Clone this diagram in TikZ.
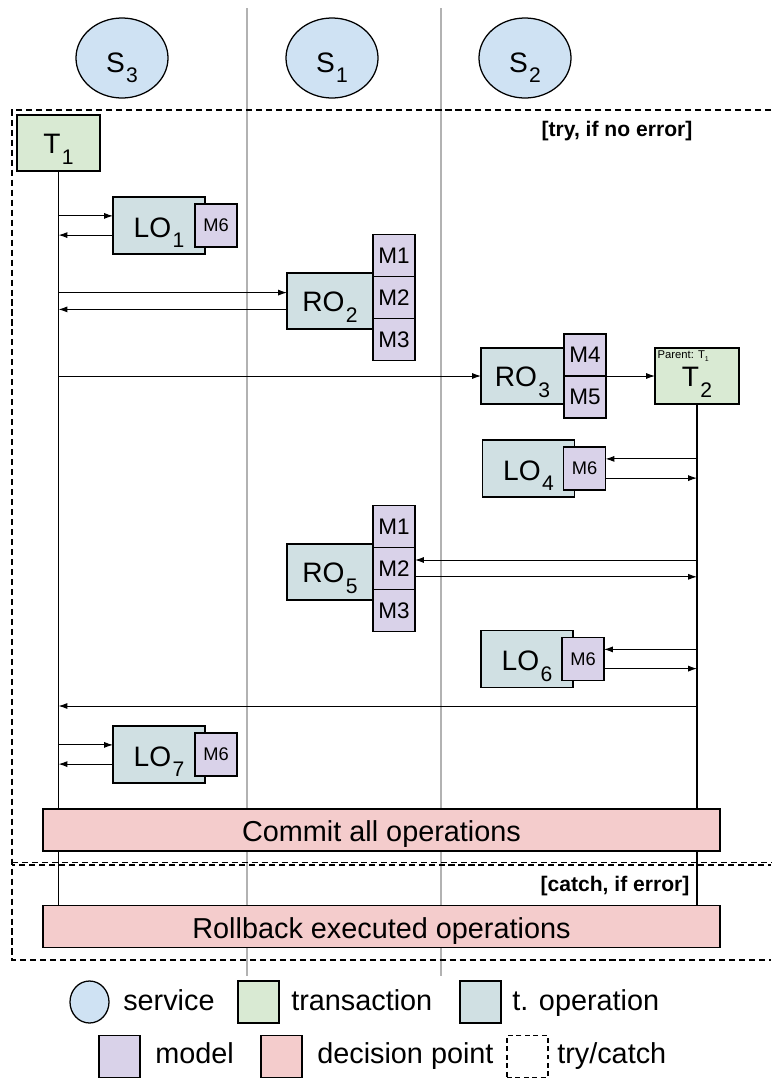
\documentclass[tikz,border=0pt]{standalone}
\usepackage{fontspec}
\setmainfont{Liberation Sans}
\usepackage{tikz}
\usetikzlibrary{positioning, shapes.geometric, arrows.meta}

\definecolor{svcblue}{HTML}{CFE2F3}
\definecolor{txgreen}{HTML}{D9EAD3}
\definecolor{opteal}{HTML}{D0E0E3}
\definecolor{mdlpurple}{HTML}{D9D2E9}
\definecolor{decred}{HTML}{F4CCCC}

\newcommand{\lsub}[1]{\kern1pt\raisebox{-7.5pt}{\fontsize{15}{15}\selectfont #1}}
\newcommand{\tsub}[1]{\raisebox{-2pt}{\fontsize{5}{5}\selectfont #1}}

\tikzstyle{service} = [ellipse, draw=black, line width=0.9pt, fill=svcblue, minimum width=2.3cm, minimum height=2cm, font=\fontsize{20}{20}\selectfont, text height=20pt, text depth=0pt]
\tikzstyle{trans} = [rectangle, draw=black, line width=0.9pt, fill=txgreen, minimum width=2.1cm, minimum height=1.4cm, font=\fontsize{20}{20}\selectfont, text height=15.6pt, text depth=0pt, outer sep=0pt]
\tikzstyle{lop} = [rectangle, draw=black, line width=0.9pt, fill=opteal, minimum width=2.3cm, minimum height=1.425cm, font=\fontsize{20}{20}\selectfont, text height=16.4pt, text depth=0pt, outer sep=0pt]
\tikzstyle{rop} = [lop, minimum width=2.15cm, minimum height=1.4cm, text height=15.2pt]
\tikzstyle{model} = [rectangle, draw=black, line width=0.9pt, fill=mdlpurple, minimum width=1.05cm, minimum height=1.05cm, inner sep=0pt, outer sep=0pt, font=\fontsize{16}{16}\selectfont]
\tikzstyle{smodel} = [model, minimum height=1.075cm, font=\fontsize{13}{13}\selectfont]
\tikzstyle{decision} = [rectangle, draw=black, line width=0.9pt, fill=decred, minimum width=16.925cm, minimum height=1.05cm, font=\fontsize{20.5}{20.5}\selectfont, text height=17pt, text depth=0pt]
\tikzstyle{arrow} = [line width=0.7pt, -{Latex[length=2.2mm, width=1.5mm]}]
\tikzstyle{lifeline} = [line width=0.9pt]
\tikzstyle{lane} = [draw=black!30, line width=1pt]
\tikzstyle{trybox} = [line width=0.8pt, dash pattern=on 4.3pt off 2.8pt]
\tikzstyle{guard} = [inner sep=0pt, font=\bfseries\fontsize{15}{15}\selectfont]
\tikzstyle{legtext} = [inner sep=0pt, anchor=base west, font=\fontsize{20.5}{20.5}\selectfont]
\tikzstyle{legbox} = [minimum width=1.025cm, minimum height=1.05cm, inner sep=0pt, text height=0pt, text depth=0pt]

\begin{document}
\begin{tikzpicture}[x=0.025cm, y=-0.025cm]
\useasboundingbox (0,0) rectangle (771,1080);

\draw[lane] (247,8) -- (247,976);
\draw[lane] (441,8) -- (441,976);

\node (s3) [service] at (122,58) {S\lsub{3}};
\node (s1) [service] at (332,58) {S\lsub{1}};
\node (s2) [service] at (525,58) {S\lsub{2}};

\draw[trybox] (771,110) -- (12,110) -- (12,960) -- (771,960);
\draw[trybox] (12,862.5) -- (771,862.5);
\draw[trybox, dash phase=2pt] (12,865) -- (771,865);
\node (tryl) [guard] at (617,131) {[try, if no error]};
\node (catchl) [guard] at (615,886) {[catch, if error]};

\node (t1) [trans, minimum width=2.075cm] at (58.5,143) {T\lsub{1}};

\node (lo1) [lop] at (159,225.5) {LO\lsub{1}};
\node (lo1m) [smodel, right=-0.25cm of lo1] {M6};

\node (ro2) [rop] at (330,301) {RO\lsub{2}};
\node (ro2m2) [model, right=0cm of ro2, yshift=0.09cm] {M2};
\node (ro2m1) [model, above=0cm of ro2m2] {M1};
\node (ro2m3) [model, below=0cm of ro2m2] {M3};

\node (ro3) [rop, minimum width=2.075cm] at (522.5,376) {RO\lsub{3}};
\node (ro3m4) [model, anchor=south west] at (ro3.east) {M4};
\node (ro3m5) [model, anchor=north west] at (ro3.east) {M5};

\node (t2) [trans] at (697,376) {T\lsub{2}};
\node (t2par) [anchor=north west, inner sep=0pt, font=\fontsize{8}{8}\selectfont] at ([xshift=0.06cm, yshift=-0.06cm]t2.north west) {Parent: T\tsub{1}};

\node (lo4) [lop] at (528.5,468.5) {LO\lsub{4}};
\node (lo4m) [smodel, right=-0.275cm of lo4] {M6};

\node (ro5) [rop] at (330,572) {RO\lsub{5}};
\node (ro5m2) [model, right=0cm of ro5, yshift=0.09cm] {M2};
\node (ro5m1) [model, above=0cm of ro5m2] {M1};
\node (ro5m3) [model, below=0cm of ro5m2] {M3};

\node (lo6) [lop] at (527,659) {LO\lsub{6}};
\node (lo6m) [smodel, right=-0.275cm of lo6] {M6};

\node (lo7) [lop] at (159,754.5) {LO\lsub{7}};
\node (lo7m) [smodel, right=-0.25cm of lo7] {M6};

\coordinate (lifeend) at (0,906);
\draw[lifeline] (t1.south) -- (t1.south |- lifeend);
\draw[lifeline] (t2.south) -- (t2.south |- lifeend);

\node (commit) [decision] at (381.5,830) {Commit all operations};
\node (rollback) [decision] at (381.5,926.5) {Rollback executed operations};

\draw[arrow] ([yshift=0.24cm]lo1.west -| t1) -- ([yshift=0.24cm]lo1.west);
\draw[arrow] ([yshift=-0.24cm]lo1.west) -- ([yshift=-0.24cm]lo1.west -| t1);

\draw[arrow] ([yshift=0.21cm]ro2.west -| t1) -- ([yshift=0.21cm]ro2.west);
\draw[arrow] ([yshift=-0.21cm]ro2.west) -- ([yshift=-0.21cm]ro2.west -| t1);

\draw[arrow] (ro3.west -| t1) -- (ro3.west);
\draw[arrow] (ro3m4.south east) -- (t2.west);

\draw[arrow] ([yshift=0.24cm]lo4m.east -| t2) -- ([yshift=0.24cm]lo4m.east);
\draw[arrow] ([yshift=-0.24cm]lo4m.east) -- ([yshift=-0.24cm]lo4m.east -| t2);

\draw[arrow] ([yshift=0.21cm]ro5m2.east -| t2) -- ([yshift=0.21cm]ro5m2.east);
\draw[arrow] ([yshift=-0.21cm]ro5m2.east) -- ([yshift=-0.21cm]ro5m2.east -| t2);

\draw[arrow] ([yshift=0.24cm]lo6m.east -| t2) -- ([yshift=0.24cm]lo6m.east);
\draw[arrow] ([yshift=-0.24cm]lo6m.east) -- ([yshift=-0.24cm]lo6m.east -| t2);

\coordinate (t2ret) at (697,706);
\draw[arrow] (t2ret) -- (t2ret -| t1);

\draw[arrow] ([yshift=0.24cm]lo7.west -| t1) -- ([yshift=0.24cm]lo7.west);
\draw[arrow] ([yshift=-0.24cm]lo7.west) -- ([yshift=-0.24cm]lo7.west -| t1);

\node (legsvc) [service, legbox, minimum width=0.975cm] at (89.5,1002) {};
\node (legsvct) [legtext] at (123,1010) {service};
\node (legtx) [trans, legbox] at (258.5,1002) {};
\node (legtxt) [legtext] at (291,1010) {transaction};
\node (legop) [lop, legbox] at (480.5,1002) {};
\node (legopt) [legtext] at (512,1010) {t. operation};
\node (legmd) [model, legbox] at (119.5,1056.5) {};
\node (legmdt) [legtext] at (155,1063) {model};
\node (legdp) [decision, legbox] at (281.5,1056.5) {};
\node (legdpt) [legtext] at (317,1063) {decision point};
\node (legtc) [draw, trybox, legbox, dash pattern=on 3.5pt off 2.5pt] at (527.5,1056.5) {};
\node (legtct) [legtext] at (557,1063) {try/catch};
\end{tikzpicture}
\end{document}
